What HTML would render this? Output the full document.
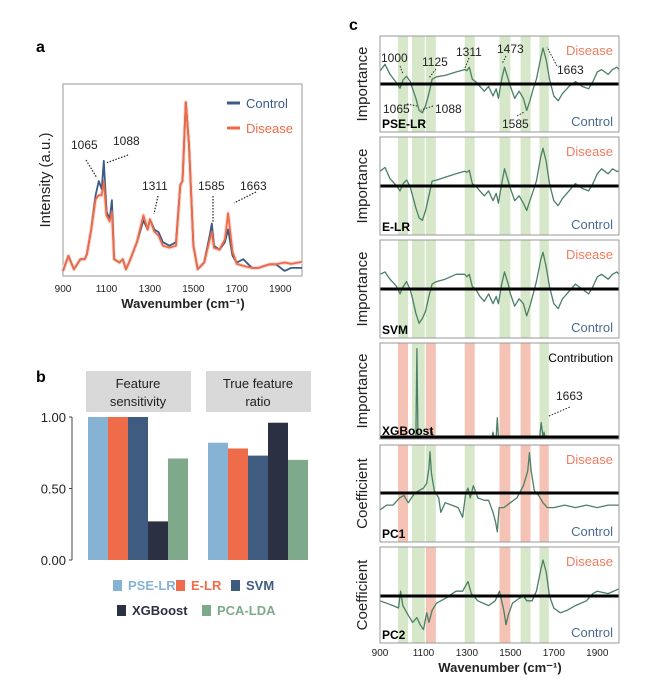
<!DOCTYPE html>
<html><head><meta charset="utf-8"><style>
body{margin:0;background:#fff}
svg{display:block;font-family:"Liberation Sans",sans-serif}
</style></head><body>
<svg id="fig" width="650" height="689" viewBox="0 0 650 689"></svg>
<script>
// ---------- DATA ----------
const specWn = [900,925,950,980,1000,1010,1030,1050,1065,1078,1088,1100,1115,1125,1135,1160,1175,1190,1210,1240,1270,1290,1300,1320,1340,1360,1390,1420,1440,1450,1465,1480,1500,1520,1550,1575,1585,1595,1620,1645,1660,1680,1700,1730,1770,1800,1850,1880,1920,1950,2000];
const controlI = [2.5,10,3.3,8.3,8.3,10.8,23,40,47,43,57,32,28,37.5,8.3,6.7,8.3,3.3,8.3,16.7,27.5,23,28,23,21.7,16.7,15,16.7,45,47,86,65,15,3.3,6.7,20,26,15,13,16.7,23,10,6.7,8.3,4,4,5.8,5.8,2.5,4,4];
const diseaseI = [2.5,10,3.3,8.3,8.3,10.8,23,38,40,40,47,30,27,32,8.3,6.7,8.3,3.3,8.3,16.7,30,23,28,22,20,15,14,15,45,47,86,65,15,3.3,6.7,18,22,14,13,18,31,12,6,5,4,4,5.8,5.8,6.7,6,7];
const barGroups = ["Feature sensitivity","True feature ratio"];
const barModels = ["PSE-LR","E-LR","SVM","XGBoost","PCA-LDA"];
const sensitivity = [1.00,1.00,1.00,0.27,0.71];
const trueRatio = [0.82,0.78,0.73,0.96,0.70];
const yTicksB = [0,0.5,1.0];
const bandStart = [983,1047,1111,1290,1450,1547,1634];
const bandEnd = [1029,1106,1157,1336,1500,1593,1677];
const bandsXGB = ["r","g","r","r","r","r","g"];
const bandsPC1 = ["r","g","g","g","r","r","r"];
const bandsPC2 = ["g","g","r","g","r","g","g"];
const imWn = [900,923,946,977,992,1007,1022,1038,1050,1065,1080,1095,1110,1125,1140,1160,1200,1250,1290,1300,1311,1325,1340,1360,1380,1400,1420,1435,1445,1460,1473,1490,1500,1520,1540,1560,1575,1590,1605,1620,1640,1650,1665,1680,1700,1720,1740,1770,1800,1830,1860,1880,1900,1920,1950,1970,1990,2000];
const pseLR = [0.27,0.41,0.2,0.02,-0.09,0.09,0.16,0.06,-0.1,-0.3,-0.55,-0.6,-0.45,-0.2,0.1,0.15,0.18,0.25,0.3,0.28,0.35,0.1,0.05,-0.05,-0.15,-0.05,-0.25,-0.1,-0.3,0.1,0.35,0.1,-0.05,-0.3,-0.15,-0.3,-0.55,-0.35,-0.1,0.1,0.55,0.75,0.5,0.1,-0.25,-0.35,-0.2,-0.05,0.05,-0.05,-0.1,0.05,0.25,0.3,0.2,0.3,0.35,0.3];
const eLR = [0.3,0.38,0.15,0.0,-0.1,0.05,0.12,0.0,-0.2,-0.45,-0.65,-0.7,-0.5,-0.2,0.1,0.12,0.18,0.25,0.3,0.28,0.32,0.05,0.0,-0.1,-0.2,-0.1,-0.3,-0.15,-0.35,0.05,0.35,0.1,-0.05,-0.3,-0.2,-0.35,-0.5,-0.3,-0.1,0.1,0.6,0.77,0.5,0.05,-0.3,-0.4,-0.25,-0.1,0.05,-0.05,-0.1,0.05,0.25,0.35,0.25,0.35,0.3,0.3];
const svm = [0.3,0.35,0.2,0.05,-0.1,0.05,0.15,0.0,-0.2,-0.5,-0.7,-0.6,-0.45,-0.15,0.1,0.15,0.2,0.3,0.3,0.25,0.3,0.05,0.0,-0.15,-0.25,-0.1,-0.3,-0.15,-0.3,0.1,0.35,0.1,-0.1,-0.35,-0.2,-0.3,-0.55,-0.35,-0.1,0.15,0.6,0.75,0.45,0.05,-0.3,-0.4,-0.2,-0.05,0.1,0.0,-0.1,0.05,0.25,0.3,0.2,0.3,0.35,0.3];
const xgbWn = [900,1065,1070,1075,1135,1140,1145,1415,1420,1425,1435,1440,1445,1635,1642,1650,1655,1660,2000];
const xgbV = [0,0,0.92,0,0,0.06,0,0,0.05,0,0,0.2,0,0,0.15,0,0.05,0,0];
const pc1Wn = [900,930,960,990,1010,1030,1060,1080,1100,1115,1125,1130,1137,1150,1170,1180,1200,1230,1260,1280,1295,1305,1315,1330,1350,1380,1400,1420,1432,1440,1448,1470,1500,1530,1560,1580,1588,1596,1610,1630,1650,1670,1700,1750,1800,1850,1900,1950,2000];
const pc1V = [-0.35,-0.25,-0.25,-0.1,-0.05,-0.2,0,0.05,0.1,0.2,0.5,0.85,0.4,0.05,-0.1,-0.4,-0.2,-0.25,-0.3,-0.5,0,0.1,-0.1,0.15,-0.1,-0.15,-0.15,-0.4,-0.6,-0.8,-0.3,-0.3,-0.2,-0.1,0.15,0.45,0.83,0.45,0.05,-0.05,-0.2,-0.3,-0.3,-0.25,-0.3,-0.25,-0.3,-0.25,-0.25];
const pc2Wn = [900,930,960,985,995,1005,1030,1050,1070,1085,1100,1115,1125,1140,1160,1200,1250,1280,1305,1320,1350,1400,1430,1450,1470,1480,1490,1510,1540,1560,1575,1600,1620,1640,1650,1665,1680,1700,1730,1760,1800,1850,1880,1900,1950,2000];
const pc2V = [-0.1,-0.15,-0.2,-0.25,0.1,-0.2,-0.4,-0.55,-0.45,-0.6,-0.7,-0.35,-0.55,-0.3,-0.15,-0.05,0.1,0.1,0.3,0.05,-0.1,-0.2,-0.1,0.1,-0.3,-0.6,-0.4,-0.15,-0.05,0,-0.1,-0.1,0.1,0.55,0.75,0.5,0,-0.25,-0.35,-0.3,-0.2,-0.1,0.05,0.1,0.05,0.15];
const wnTicks = [900,1100,1300,1500,1700,1900];

// ---------- HELPERS ----------
const NS="http://www.w3.org/2000/svg", svg=document.getElementById('fig');
function mk(tag,attrs,parent,text){const e=document.createElementNS(NS,tag);for(const k in attrs)e.setAttribute(k,attrs[k]);if(text!==undefined)e.textContent=text;(parent||svg).appendChild(e);return e;}
function txt(x,y,s,size,opt,name){const e=mk('text',Object.assign({x:x,y:y,'font-size':size,fill:'#222'},opt||{}),svg,s);

return e;}

// ---------- PANEL A ----------
const aX0=63,aX1=302,aY0=84,aY1=276;
const ax=w=>aX0+(w-900)/(2000-900)*(aX1-aX0);
const ay=v=>aY1-v/95*(aY1-aY0);
txt(36,52,'a',16,{'font-weight':'bold',fill:'#000'},'panel-a-label');
let fr=mk('rect',{x:aX0,y:aY0,width:aX1-aX0,height:aY1-aY0,fill:'none',stroke:'#999','stroke-width':1});

function line(xs,ys,fx,fy,col,w,name){const d=xs.map((x,i)=>(i?'L':'M')+fx(x).toFixed(1)+','+fy(ys[i]).toFixed(1)).join('');
const p=mk('path',{d:d,fill:'none',stroke:col,'stroke-width':w,'stroke-linejoin':'round'});

return p;}
line(specWn,diseaseI,ax,ay,'#f8dcd2',4,'disease-spread');
line(specWn,controlI,ax,ay,'#3c5a87',1.8,'control-line');
line(specWn,diseaseI,ax,ay,'#ef6a48',1.8,'disease-line');
wnTicks.forEach(t=>{txt(ax(t),292,t,10,{'text-anchor':'middle'},'x-tick-'+t);});
txt(183,308,'Wavenumber (cm⁻¹)',13,{'text-anchor':'middle','font-weight':'bold'},'x-axis-title');
txt(50,180,'Intensity (a.u.)',15,{'text-anchor':'middle',transform:'rotate(-90 50 180)'},'y-axis-title');
let l1=mk('line',{x1:227,y1:103,x2:240,y2:103,stroke:'#3c5a87','stroke-width':3});
txt(246,108,'Control',13,{fill:'#3c5a87'},'legend-control');
let l2=mk('line',{x1:227,y1:128,x2:240,y2:128,stroke:'#ef6a48','stroke-width':3});
txt(246,133,'Disease',13,{fill:'#ef6a48'},'legend-disease');
[['1065',71,149,86,160,97,178],['1088',113,145,128,155,106,163],['1311',142,190,158,196,154,214],['1585',198,190,213,196,213,222],['1663',240,190,256,192,234,203]].forEach(a=>{
txt(a[1],a[2],a[0],12,{},'peak-label-'+a[0]);
const d=mk('line',{x1:a[3],y1:a[4],x2:a[5],y2:a[6],stroke:'#222','stroke-width':1.2,'stroke-dasharray':'1.5,1.5'});
});

// ---------- PANEL B ----------
txt(36,382,'b',16,{'font-weight':'bold',fill:'#000'},'panel-b-label');
const bY0=560,bY1=417;
const by=v=>bY0-v*(bY0-bY1);
const barColors=['#86b3d3','#ef6c4a','#3f5b80','#2b3142','#7fa98b'];
let axl=mk('path',{d:`M72,${bY1}L72,${bY0}`,stroke:'#444','stroke-width':1,fill:'none'});
yTicksB.forEach(t=>{const tk=mk('line',{x1:69,y1:by(t),x2:72,y2:by(t),stroke:'#444'});
txt(66,by(t)+5,t.toFixed(2),13,{'text-anchor':'end'},'y-tick-label-'+t);});
const groupX=[88,208],bw=20;
[sensitivity,trueRatio].forEach((vals,g)=>{
  const hx=groupX[g]-2;
  const h=mk('rect',{x:hx,y:371,width:105,height:41,fill:'#d9d9d9'});
  const words=g?['True feature','ratio']:['Feature','sensitivity'];
  txt(hx+52,388,words[0],13,{'text-anchor':'middle'},'facet-title-'+g);
  txt(hx+52,406,words[1],13,{'text-anchor':'middle'},'facet-subtitle-'+g);
  vals.forEach((v,i)=>{const r=mk('rect',{x:groupX[g]+i*bw,y:by(v),width:bw,height:by(0)-by(v),fill:barColors[i]});
  
  });
});
[[113,587,0],[176,587,1],[231,587,2],[117,612,3],[202,612,4]].forEach(p=>{
  const i=p[2];const s=mk('rect',{x:p[0],y:p[1]-7,width:9,height:11,fill:barColors[i]});
  
  txt(p[0]+15,p[1]+3,barModels[i],13,{'font-weight':'bold',fill:i===3?'#2b3142':barColors[i]},'legend-'+barModels[i].toLowerCase());
});

// ---------- PANEL C ----------
txt(349,30,'c',16,{'font-weight':'bold',fill:'#000'},'panel-c-label');
const cX0=380,cX1=619;
const cx=w=>cX0+(w-900)/(2000-900)*(cX1-cX0);
const panels=[
 {name:'pse-lr',top:36,bot:132,zero:84,label:'PSE-LR',ylab:'Importance',bands:null,wn:imWn,v:pseLR},
 {name:'e-lr',top:137,bot:235,zero:186,label:'E-LR',ylab:'Importance',bands:null,wn:imWn,v:eLR},
 {name:'svm',top:240,bot:338,zero:289,label:'SVM',ylab:'Importance',bands:null,wn:imWn,v:svm},
 {name:'xgboost',top:343,bot:439,zero:437,label:'XGBoost',ylab:'Importance',bands:bandsXGB,wn:xgbWn,v:xgbV,xgb:true},
 {name:'pc1',top:445,bot:542,zero:493,label:'PC1',ylab:'Coefficient',bands:bandsPC1,wn:pc1Wn,v:pc1V},
 {name:'pc2',top:547,bot:643,zero:596,label:'PC2',ylab:'Coefficient',bands:bandsPC2,wn:pc2Wn,v:pc2V}];
panels.forEach(P=>{
  bandStart.forEach((b,i)=>{const c=P.bands&&P.bands[i]==='r'?'#f5c3b5':'#d6e8c9';
    const r=mk('rect',{x:cx(b),y:P.top,width:cx(bandEnd[i])-cx(b),height:P.bot-P.top,fill:c});
    
    });
  const half=(P.bot-P.top)/2;
  const fy=P.xgb?(v=>P.zero-v*(P.bot-P.top)):(v=>P.zero-v*half);
  line(P.wn,P.v,cx,fy,'#4b7f66',1.3,'curve-'+P.name);
  const z=mk('line',{x1:cX0,y1:P.zero,x2:cX1,y2:P.zero,stroke:'#000','stroke-width':3});
  
  const f=mk('rect',{x:cX0,y:P.top,width:cX1-cX0,height:P.bot-P.top,fill:'none',stroke:'#999','stroke-width':1});
  
  txt(382,P.bot-4,P.label,12,{'font-weight':'bold',fill:'#000'},'model-label-'+P.name);
  const my=(P.top+P.bot)/2;
  txt(367,my,P.ylab,15,{'text-anchor':'middle',transform:`rotate(-90 367 ${my})`},'y-title-'+P.name);
  if(!P.xgb){txt(613,P.top+19,'Disease',13,{'text-anchor':'end',fill:'#f07b5e'},'disease-label-'+P.name);
    txt(613,P.bot-6,'Control',13,{'text-anchor':'end',fill:'#4a6b94'},'control-label-'+P.name);}
});
txt(613,362,'Contribution',12,{'text-anchor':'end',fill:'#000'},'contribution-label');
txt(556,400,'1663',12,{},'xgb-1663-label');
[[381,62,'1000',400,66,403,74],[422,66,'1125',436,69,429,78],[456,56,'1311',469,58,465,68],[497,53,'1473',506,56,502,64],[557,74,'1663',557,66,547,47],[383,113,'1065',407,104,417,106],[435,113,'1088',433,106,421,110],[502,128,'1585',517,116,524,112]].forEach(a=>{
  txt(a[0],a[1],a[2],12,{},'c-peak-'+a[2]);
  const d=mk('line',{x1:a[3],y1:a[4],x2:a[5],y2:a[6],stroke:'#222','stroke-width':1,'stroke-dasharray':'1.5,1.5'});
  });
let dx=mk('line',{x1:549,y1:416,x2:570,y2:407,stroke:'#222','stroke-width':1,'stroke-dasharray':'1.5,1.5'});

wnTicks.forEach(t=>{txt(cx(t),656,t,10,{'text-anchor':'middle'},'c-x-tick-'+t);});
txt(500,672,'Wavenumber (cm⁻¹)',13,{'text-anchor':'middle','font-weight':'bold'},'c-x-axis-title');
</script>
</body></html>
